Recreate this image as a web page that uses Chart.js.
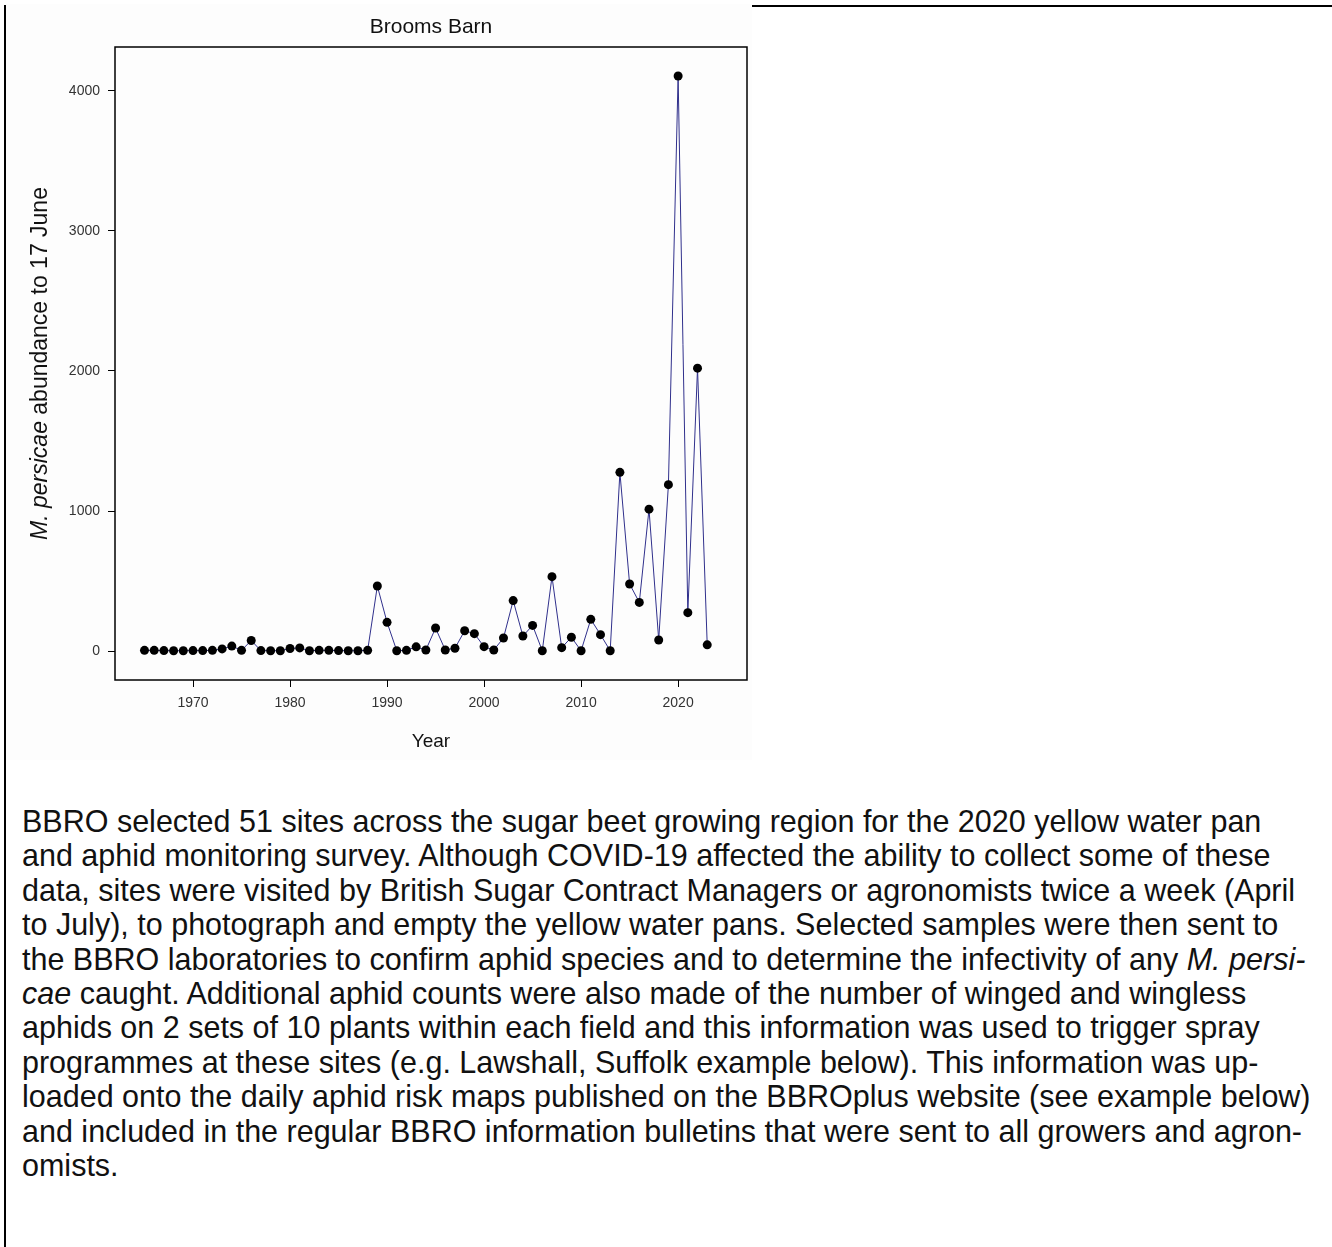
<!DOCTYPE html>
<html>
<head>
<meta charset="utf-8">
<script src="https://cdn.jsdelivr.net/npm/chart.js@4.4.1/dist/chart.umd.min.js"></script>
<style>
  html, body { margin: 0; padding: 0; background: #fff; overflow: hidden; }
  body { width: 1332px; height: 1247px; position: relative; font-family: "Liberation Sans", Arial, sans-serif; }
  #frame { position: absolute; left: 4px; top: 5px; width: 1400px; height: 1400px; border-left: 2px solid #000; border-top: 2px solid #000; }
  #chart-box { position: absolute; left: 6px; top: 4px; width: 746px; height: 756px; background: #fdfdfd; }
  #text { position: absolute; left: 22px; top: 804px; font-size: 30.5px; line-height: 34.4px; color: #111; }
  #text div { white-space: nowrap; }
</style>
</head>
<body>
<div id="frame"></div>
<div id="chart-box"><canvas id="myChart" width="746" height="756"></canvas></div>
<div id="text">
  <div>BBRO selected 51 sites across the sugar beet growing region for the 2020 yellow water pan</div>
  <div>and aphid monitoring survey. Although COVID-19 affected the ability to collect some of these</div>
  <div>data, sites were visited by British Sugar Contract Managers or agronomists twice a week (April</div>
  <div>to July), to photograph and empty the yellow water pans. Selected samples were then sent to</div>
  <div>the BBRO laboratories to confirm aphid species and to determine the infectivity of any <i>M. persi-</i></div>
  <div><i>cae</i> caught. Additional aphid counts were also made of the number of winged and wingless</div>
  <div>aphids on 2 sets of 10 plants within each field and this information was used to trigger spray</div>
  <div>programmes at these sites (e.g. Lawshall, Suffolk example below). This information was up-</div>
  <div>loaded onto the daily aphid risk maps published on the BBROplus website (see example below)</div>
  <div>and included in the regular BBRO information bulletins that were sent to all growers and agron-</div>
  <div>omists.</div>
</div>
<script>
// Chart data
const years = [1965, 1966, 1967, 1968, 1969, 1970, 1971, 1972, 1973, 1974,
               1975, 1976, 1977, 1978, 1979, 1980, 1981, 1982, 1983, 1984,
               1985, 1986, 1987, 1988, 1989, 1990, 1991, 1992, 1993, 1994,
               1995, 1996, 1997, 1998, 1999, 2000, 2001, 2002, 2003, 2004,
               2005, 2006, 2007, 2008, 2009, 2010, 2011, 2012, 2013, 2014,
               2015, 2016, 2017, 2018, 2019, 2020, 2021, 2022, 2023];
const abundance = [5, 5, 3, 2, 2, 3, 3, 5, 15, 35,
                   5, 75, 3, 2, 2, 18, 22, 2, 5, 5,
                   3, 2, 2, 5, 464, 205, 2, 5, 30, 7,
                   164, 7, 20, 145, 124, 31, 7, 93, 360, 107,
                   183, 2, 531, 24, 98, 2, 226, 117, 2, 1276,
                   479, 347, 1013, 79, 1188, 4107, 274, 2020, 44];
const xTicks = [1970, 1980, 1990, 2000, 2010, 2020];
const yTicks = [0, 1000, 2000, 3000, 4000];

const chartTitle = 'Brooms Barn';
const xTitle = 'Year';
const yTitleItalic = 'M. persicae';
const yTitleRest = ' abundance to 17 June';

const FONT = '"Liberation Sans", Arial, sans-serif';

// Box round the plot area, title and axis titles (R style)
const decorations = {
    id: 'decorations',
    afterDraw(chart) {
        const ctx = chart.ctx;
        const a = chart.chartArea;
        ctx.save();
        ctx.strokeStyle = '#000';
        ctx.lineWidth = 1.5;
        ctx.strokeRect(a.left, a.top, a.right - a.left, a.bottom - a.top);

        ctx.fillStyle = '#111';
        ctx.textAlign = 'center';
        ctx.textBaseline = 'middle';
        const cx = (a.left + a.right) / 2;
        const cy = (a.top + a.bottom) / 2;
        ctx.font = '21px ' + FONT;
        ctx.fillText(chartTitle, cx, 23);
        ctx.font = '19px ' + FONT;
        ctx.fillText(xTitle, cx, 738);

        // y title: italic species name then plain text, rotated
        ctx.translate(35, cy);
        ctx.rotate(-Math.PI / 2);
        ctx.font = 'italic 23px ' + FONT;
        const w1 = ctx.measureText(yTitleItalic).width;
        ctx.font = '23px ' + FONT;
        const w2 = ctx.measureText(yTitleRest).width;
        let x0 = -(w1 + w2) / 2;
        ctx.textAlign = 'left';
        ctx.font = 'italic 23px ' + FONT;
        ctx.fillText(yTitleItalic, x0, 0);
        ctx.font = '23px ' + FONT;
        ctx.fillText(yTitleRest, x0 + w1, 0);
        ctx.restore();
    }
};

const points = years.map((y, i) => ({ x: y, y: abundance[i] }));

new Chart(document.getElementById('myChart'), {
    type: 'line',
    data: {
        datasets: [{
            data: points,
            borderColor: '#30308c',
            borderWidth: 1,
            tension: 0,
            pointRadius: 4.5,
            pointHoverRadius: 4.5,
            pointBackgroundColor: '#000',
            pointBorderColor: '#000',
            pointBorderWidth: 0
        }]
    },
    options: {
        responsive: false,
        animation: false,
        events: [],
        layout: { padding: { top: 43, right: 5, left: 0, bottom: 0 } },
        plugins: { legend: { display: false }, tooltip: { enabled: false }, title: { display: false } },
        scales: {
            x: {
                type: 'linear',
                min: 1961.96,
                max: 2027.1,
                afterBuildTicks: s => { s.ticks = xTicks.map(v => ({ value: v })); },
                afterFit: s => { s.height = 80; },
                border: { display: false },
                grid: { drawOnChartArea: false, drawTicks: true, tickLength: 7, color: '#000', lineWidth: 1 },
                ticks: { color: '#333', padding: 8, maxRotation: 0, autoSkip: false,
                         font: { family: FONT, size: 14 }, callback: v => String(v) }
            },
            y: {
                min: -207,
                max: 4314,
                afterBuildTicks: s => { s.ticks = yTicks.map(v => ({ value: v })); },
                afterFit: s => { s.width = 109; },
                border: { display: false },
                grid: { drawOnChartArea: false, drawTicks: true, tickLength: 7, color: '#000', lineWidth: 1 },
                ticks: { color: '#333', padding: 8, autoSkip: false,
                         font: { family: FONT, size: 14 }, callback: v => String(v) }
            }
        }
    },
    plugins: [decorations]
});
</script>
</body>
</html>
